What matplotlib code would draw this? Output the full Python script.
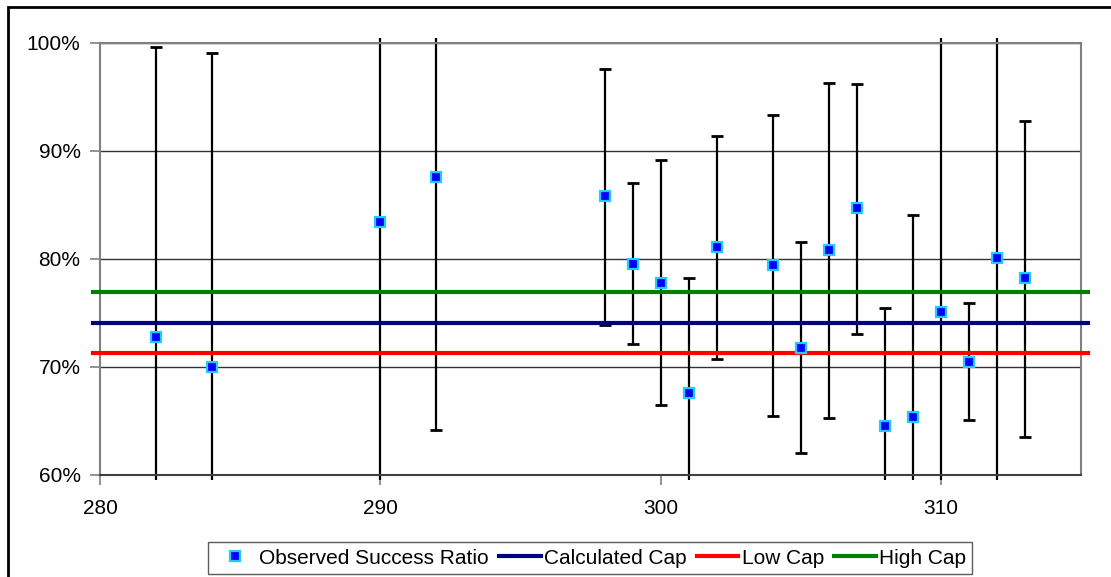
import numpy as np
import matplotlib.pyplot as plt
from matplotlib.patches import Rectangle

plt.rcParams['font.family'] = ['Liberation Sans', 'DejaVu Sans']

# Observed points (x value, success ratio in %)
x_vals = [282, 284, 290, 292, 298, 299, 300, 301, 302, 304,
          305, 306, 307, 308, 309, 310, 311, 312, 313]
ratio = [72.8, 70.0, 83.4, 87.6, 85.8, 79.5, 77.8, 67.6, 81.1, 79.4,
         71.8, 80.8, 84.7, 64.5, 65.4, 75.1, 70.5, 80.1, 78.2]
# error bar ends (values past the axis range run off the chart)
err_hi = [99.6, 99.1, 100.5, 100.5, 97.6, 87.0, 89.2, 78.2, 91.4, 93.3,
          81.6, 96.3, 96.2, 75.5, 84.1, 100.5, 75.9, 100.5, 92.8]
err_lo = [59.5, 59.5, 59.5, 64.2, 73.9, 72.1, 66.5, 59.5, 70.7, 65.5,
          62.0, 65.3, 73.1, 59.5, 59.5, 59.5, 65.1, 59.5, 63.5]

calc_cap = 74.1
low_cap = 71.3
high_cap = 76.9
cap_x = [279.75, 315.25]

x = np.array(x_vals)
y = np.array(ratio)
hi = np.array(err_hi)
lo = np.array(err_lo)

fig = plt.figure(figsize=(11.11, 5.77), dpi=100)
fig.patch.set_facecolor('white')
ax = fig.add_axes([100 / 1111, 102 / 577, 981 / 1111, 432 / 577])

# error bars
ax.vlines(x, lo, hi, color='black', lw=1.6, zorder=2, clip_on=False)
hi_cap = np.where(hi <= 100, hi, np.nan)
lo_cap = np.where(lo >= 60, lo, np.nan)
ax.plot(x, hi_cap, ls='none', marker='_', ms=9, mew=2, color='black', zorder=2)
ax.plot(x, lo_cap, ls='none', marker='_', ms=9, mew=2, color='black', zorder=2)

# cap lines
ax.plot(cap_x, [calc_cap] * 2, color='#000080', lw=3, clip_on=False, zorder=3,
        label='Calculated Cap')
ax.plot(cap_x, [low_cap] * 2, color='#FF0000', lw=3, clip_on=False, zorder=3,
        label='Low Cap')
ax.plot(cap_x, [high_cap] * 2, color='#008000', lw=3, clip_on=False, zorder=3,
        label='High Cap')

obs, = ax.plot(x, y, ls='none', marker='s', ms=7.6, mew=1.6,
               markerfacecolor='#0000FF', markeredgecolor='#22CCFF', zorder=4,
               label='Observed Success Ratio')

ax.set_xlim(280, 315)
ax.set_ylim(60, 100)
ax.set_xticks([280, 290, 300, 310])
ax.set_yticks([60, 70, 80, 90, 100])
ax.set_yticklabels(['60%', '70%', '80%', '90%', '100%'])
ax.yaxis.grid(True, color='#333333', lw=1)
ax.set_axisbelow(True)

for s in ['top', 'right', 'left']:
    ax.spines[s].set_color('#808080')
    ax.spines[s].set_linewidth(1.5)
ax.spines['bottom'].set_color('#404040')
ax.spines['bottom'].set_linewidth(1.5)
ax.tick_params(axis='both', colors='#808080', length=7, width=1.2,
               labelcolor='black', labelsize=15)
ax.tick_params(axis='y', pad=7)
ax.tick_params(axis='x', pad=10)

handles, labels = ax.get_legend_handles_labels()
order = [3, 0, 1, 2]
leg = fig.legend([handles[i] for i in order], [labels[i] for i in order],
                 loc='center', bbox_to_anchor=(590 / 1111, 19 / 577), ncol=4,
                 fontsize=15, frameon=True, fancybox=False, handlelength=2.0,
                 handletextpad=0.15, columnspacing=0.5, borderpad=0.3,
                 borderaxespad=0)
leg.get_frame().set_edgecolor('#333333')
leg.get_frame().set_linewidth(1.0)

# chart area border
fig.patches.append(Rectangle((8 / 1111, -0.05), 1.1, (577 - 7) / 577 + 0.05,
                             transform=fig.transFigure, fill=False,
                             edgecolor='black', lw=2, zorder=0))

fig.savefig('out.png', dpi=100, facecolor='white')
